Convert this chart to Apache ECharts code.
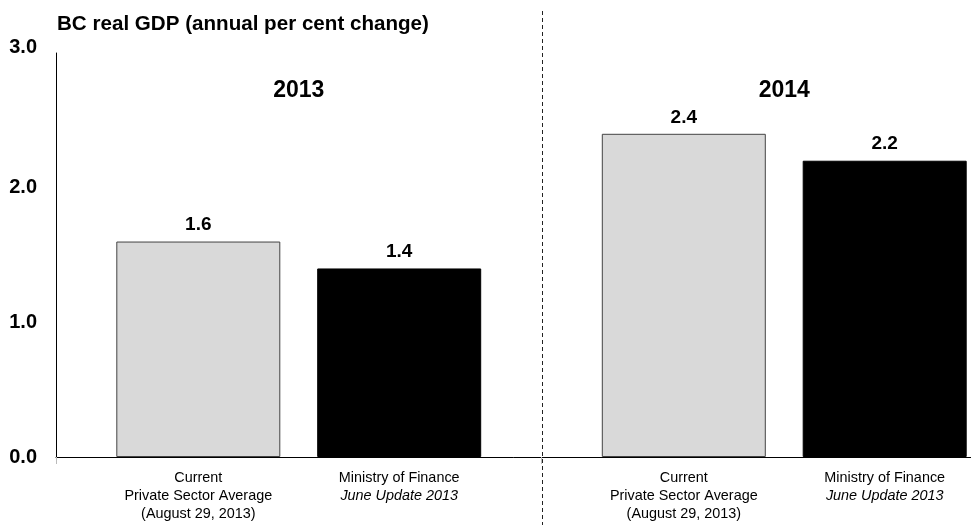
<!DOCTYPE html>
<html>
<head>
<meta charset="utf-8">
<title>BC real GDP</title>
<script src="https://cdn.jsdelivr.net/npm/echarts@6/dist/echarts.min.js"></script>
<style>
  html, body { margin: 0; padding: 0; background: #fff; }
  #chart { width: 971px; height: 525px; }
</style>
</head>
<body>
<div id="chart"></div>
<script>
// Forecast years and real GDP growth (annual per cent change)
const years = ['2013', '2014'];
const privateSectorAverage = [1.6, 2.4];
const ministryOfFinance = [1.4, 2.2];
const yTickValues = [0, 1, 2, 3];

// Text under each bar
const privateSectorLines = ['Current', 'Private Sector Average', '(August 29, 2013)'];
const ministryLines = ['Ministry of Finance', 'June Update 2013'];
const axisTitle = 'BC real GDP (annual per cent change)';

const SANS = 'Liberation Sans, Arial, sans-serif';
const BAR_WIDTH = 164;
const BAR_GAP = '22.5%';
const Y_MAX = yTickValues[yTickValues.length - 1];

const chart = echarts.init(document.getElementById('chart'), null, { renderer: 'canvas' });

const valueLabel = {
  show: true,
  position: 'top',
  distance: 7,
  formatter: p => Number(p.value).toFixed(1),
  fontFamily: SANS,
  fontWeight: 'bold',
  fontSize: 19,
  color: '#000'
};

const captionText = { fontFamily: SANS, fontSize: 14.4, lineHeight: 18, color: '#000' };
const tickText = { fontFamily: SANS, fontWeight: 'bold', fontSize: 20, color: '#000' };

chart.setOption({
  animation: false,
  title: {
    text: axisTitle,
    left: 57,
    top: 14,
    padding: 0,
    textStyle: { fontFamily: SANS, fontWeight: 'bold', fontSize: 20.6, color: '#000' }
  },
  // the plot runs past the right edge of the page, so the second group sits near it
  grid: {
    left: 56,
    top: 53,
    width: 971,
    height: 404,
    outerBoundsMode: 'none',
    containLabel: false
  },
  xAxis: [
    {
      type: 'category',
      data: years,
      position: 'bottom',
      axisLine: { show: true, lineStyle: { color: '#000', width: 1 } },
      axisTick: { show: true, length: 7, lineStyle: { color: '#bbb' } },
      axisLabel: { show: false },
      splitLine: { show: false }
    },
    {
      // year headings across the top of each group
      type: 'category',
      data: years,
      position: 'top',
      axisLine: { show: false },
      axisTick: { show: false },
      splitLine: { show: false },
      axisLabel: {
        inside: true,
        margin: 26,
        fontFamily: SANS,
        fontWeight: 'bold',
        fontSize: 23,
        color: '#000'
      }
    }
  ],
  yAxis: {
    type: 'value',
    min: yTickValues[0],
    max: Y_MAX,
    interval: yTickValues[1] - yTickValues[0],
    axisLine: { show: true, lineStyle: { color: '#000', width: 1 } },
    axisTick: { show: false },
    splitLine: { show: false },
    axisLabel: {
      margin: 19,
      // the top label sits slightly above its gridline position
      formatter: v => (v === Y_MAX ? '{top|' : '{n|') + v.toFixed(1) + '}',
      rich: {
        n: Object.assign({}, tickText),
        top: Object.assign({ padding: [0, 0, 12, 0] }, tickText)
      }
    }
  },
  series: [
    {
      name: 'Current Private Sector Average',
      type: 'bar',
      xAxisIndex: 0,
      data: privateSectorAverage,
      barWidth: BAR_WIDTH,
      barGap: BAR_GAP,
      itemStyle: { color: '#d9d9d9', borderColor: '#444', borderWidth: 1 },
      label: valueLabel,
      z: 3
    },
    {
      name: 'Ministry of Finance June Update 2013',
      type: 'bar',
      xAxisIndex: 0,
      data: ministryOfFinance,
      barWidth: BAR_WIDTH,
      barGap: BAR_GAP,
      itemStyle: { color: '#000', borderColor: '#000', borderWidth: 1 },
      label: valueLabel,
      z: 3
    },
    {
      // captions under the private sector bars
      name: 'Private sector caption',
      type: 'bar',
      xAxisIndex: 1,
      data: privateSectorAverage,
      barWidth: BAR_WIDTH,
      barGap: BAR_GAP,
      silent: true,
      itemStyle: { color: 'rgba(0,0,0,0)' },
      label: Object.assign({
        show: true,
        position: 'bottom',
        distance: 12,
        align: 'center',
        formatter: privateSectorLines.join('\n')
      }, captionText),
      z: 1
    },
    {
      // captions under the ministry bars
      name: 'Ministry caption',
      type: 'bar',
      xAxisIndex: 1,
      data: ministryOfFinance,
      barWidth: BAR_WIDTH,
      barGap: BAR_GAP,
      silent: true,
      itemStyle: { color: 'rgba(0,0,0,0)' },
      label: {
        show: true,
        position: 'bottom',
        distance: 12,
        align: 'center',
        formatter: '{r|' + ministryLines[0] + '}\n{i|' + ministryLines[1] + '}',
        rich: {
          r: Object.assign({}, captionText),
          i: Object.assign({ fontStyle: 'italic' }, captionText)
        }
      },
      z: 1
    }
  ]
});

// Dashed separator on the boundary between the two year groups
const xA = chart.convertToPixel({ xAxisIndex: 0 }, years[0]);
const xB = chart.convertToPixel({ xAxisIndex: 0 }, years[1]);
const divX = Math.round((xA + xB) / 2) + 0.5;
chart.setOption({
  graphic: [{
    type: 'line',
    z: 10,
    silent: true,
    shape: { x1: divX, y1: 11, x2: divX, y2: 525 },
    style: { stroke: '#222', lineWidth: 1, lineDash: [4, 3] }
  }]
});
</script>
</body>
</html>
